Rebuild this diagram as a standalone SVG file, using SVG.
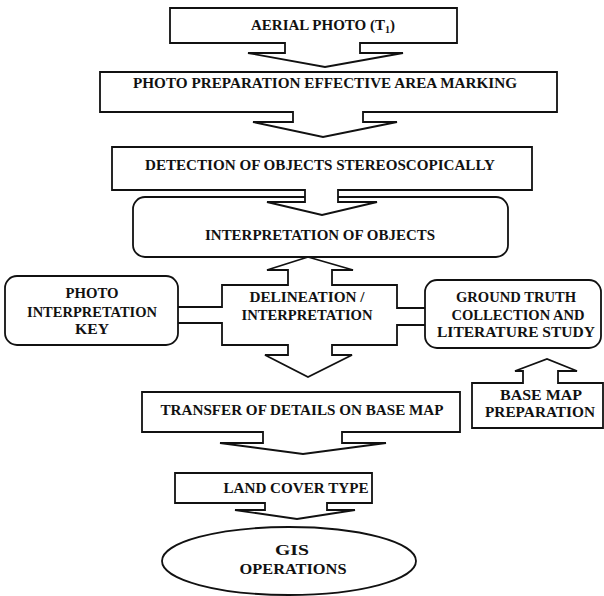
<svg xmlns="http://www.w3.org/2000/svg" width="604" height="596" viewBox="0 0 604 596">
<style>
.s{fill:#fff;stroke:#111;stroke-width:1.8;stroke-linejoin:miter}
.c{fill:none;stroke:#111;stroke-width:1.8}
text{font-family:"Liberation Serif","Times New Roman",serif;font-weight:bold;font-size:15px;fill:#111;text-anchor:middle}
</style>
<rect width="604" height="596" fill="#fff"/>
<g id="n_interp">
<rect class="s" x="133" y="197" width="375" height="60" rx="12"/>
<text x="320" y="240" textLength="230" lengthAdjust="spacingAndGlyphs">INTERPRETATION OF OBJECTS</text>
</g>
<g id="n_aerial">
<path class="s" d="M170,8 H457 V43 H360 V53 H403 L325,67 L248,53 H285 V43 H170 Z"/>
<text x="323" y="30">AERIAL PHOTO (T<tspan font-size="10" dy="3">1</tspan><tspan dy="-3">)</tspan></text>
</g>
<g id="n_prep">
<path class="s" d="M100,72 H557 V112 H363 V122 H397 L323,137 L253,122 H293 V112 H100 Z"/>
<text x="325" y="88" textLength="384" lengthAdjust="spacingAndGlyphs">PHOTO PREPARATION EFFECTIVE AREA MARKING</text>
</g>
<g id="n_detect">
<path class="s" d="M112,147 H532 V190 H338 V202 H377 L322,215 L267,202 H305 V190 H112 Z"/>
<text x="320" y="170" textLength="350" lengthAdjust="spacingAndGlyphs">DETECTION OF OBJECTS STEREOSCOPICALLY</text>
</g>
<g id="n_key">
<rect class="s" x="5" y="276" width="173" height="69" rx="12"/>
<text x="92" y="298" textLength="53" lengthAdjust="spacingAndGlyphs">PHOTO</text>
<text x="92" y="317" textLength="130" lengthAdjust="spacingAndGlyphs">INTERPRETATION</text>
<text x="92" y="334" textLength="34" lengthAdjust="spacingAndGlyphs">KEY</text>
</g>
<g id="n_ground">
<rect class="s" x="425" y="280" width="176" height="68" rx="12"/>
<text x="516" y="302" textLength="120" lengthAdjust="spacingAndGlyphs">GROUND TRUTH</text>
<text x="518" y="320" textLength="133" lengthAdjust="spacingAndGlyphs">COLLECTION AND</text>
<text x="516" y="337" textLength="158" lengthAdjust="spacingAndGlyphs">LITERATURE STUDY</text>
</g>
<g id="n_delin">
<path class="c" d="M308,257 L353,270 H332 V285 H397 V308 H425 M425,325 H397 V345 H332 V355 H352 L308,377 L265,355 H288 V345 H222 V323 H178 M178,307 H222 V285 H288 V270 H267 L308,257"/>
<text x="307" y="302" textLength="115" lengthAdjust="spacingAndGlyphs">DELINEATION /</text>
<text x="307" y="320" textLength="131" lengthAdjust="spacingAndGlyphs">INTERPRETATION</text>
</g>
<g id="n_basemap">
<path class="s" d="M472,383 H523 V371 H515 L547,359 L577,371 H558 V383 H603 V428 H472 Z"/>
<text x="541" y="400" textLength="82" lengthAdjust="spacingAndGlyphs">BASE MAP</text>
<text x="540" y="417" textLength="110" lengthAdjust="spacingAndGlyphs">PREPARATION</text>
</g>
<g id="n_transfer">
<path class="s" d="M142,392 H460 V432 H342 V443 H386 L303,454 L220,443 H263 V432 H142 Z"/>
<text x="302" y="415" textLength="283" lengthAdjust="spacingAndGlyphs">TRANSFER OF DETAILS ON BASE MAP</text>
</g>
<g id="n_landcover">
<path class="s" d="M175,473 H372 V503 H327 V510 H355 L297,519 L235,510 H265 V503 H175 Z"/>
<text x="296" y="493" textLength="145" lengthAdjust="spacingAndGlyphs">LAND COVER TYPE</text>
</g>
<g id="n_gis">
<ellipse class="s" cx="289" cy="561" rx="127" ry="34"/>
<text x="292" y="555" textLength="34" lengthAdjust="spacingAndGlyphs">GIS</text>
<text x="293" y="574" textLength="107" lengthAdjust="spacingAndGlyphs">OPERATIONS</text>
</g>
<g id="connectors"></g>
</svg>
